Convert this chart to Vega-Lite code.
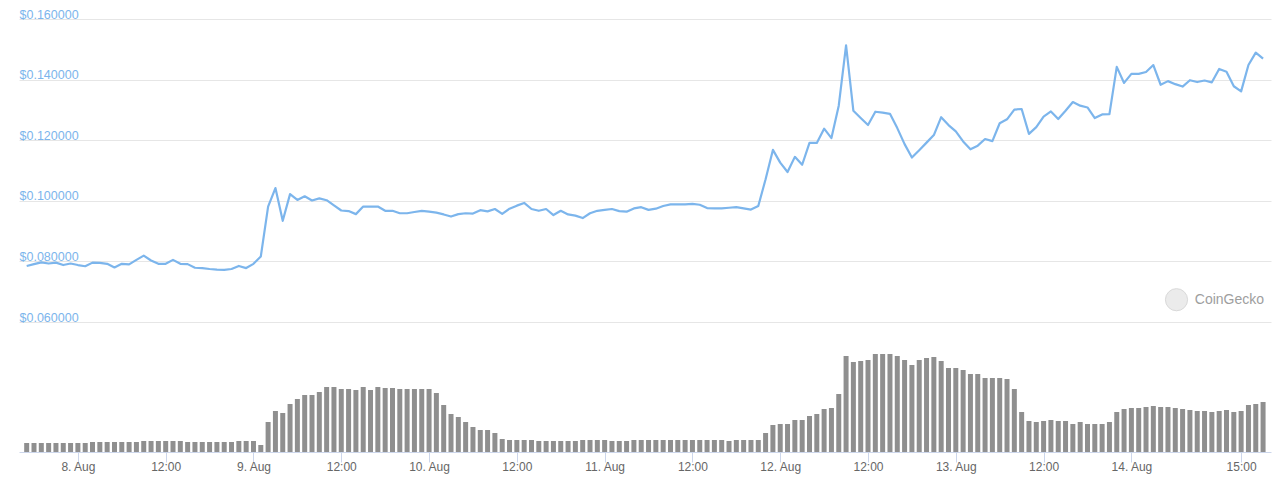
{
  "$schema": "https://vega.github.io/schema/vega-lite/v6.json",
  "width": 1252,
  "height": 433,
  "autosize": {"type": "none"},
  "padding": {"left": 19, "top": 19, "right": 9, "bottom": 34},
  "background": "white",
  "config": {"view": {"stroke": null}, "font": "Liberation Sans"},
  "datasets": {
    "series": [
      {"t":"2021-08-07T17:00","p":0.0785,"v":90000},
      {"t":"2021-08-07T18:00","p":0.0791,"v":90000},
      {"t":"2021-08-07T19:00","p":0.0797,"v":90000},
      {"t":"2021-08-07T20:00","p":0.0793,"v":90000},
      {"t":"2021-08-07T21:00","p":0.0796,"v":90000},
      {"t":"2021-08-07T22:00","p":0.0788,"v":90000},
      {"t":"2021-08-07T23:00","p":0.0793,"v":90000},
      {"t":"2021-08-08T00:00","p":0.0788,"v":90000},
      {"t":"2021-08-08T01:00","p":0.0784,"v":90000},
      {"t":"2021-08-08T02:00","p":0.0796,"v":100000},
      {"t":"2021-08-08T03:00","p":0.0795,"v":100000},
      {"t":"2021-08-08T04:00","p":0.0792,"v":100000},
      {"t":"2021-08-08T05:00","p":0.0780,"v":100000},
      {"t":"2021-08-08T06:00","p":0.0792,"v":100000},
      {"t":"2021-08-08T07:00","p":0.0790,"v":100000},
      {"t":"2021-08-08T08:00","p":0.0805,"v":100000},
      {"t":"2021-08-08T09:00","p":0.0819,"v":110000},
      {"t":"2021-08-08T10:00","p":0.0803,"v":110000},
      {"t":"2021-08-08T11:00","p":0.0792,"v":110000},
      {"t":"2021-08-08T12:00","p":0.0792,"v":110000},
      {"t":"2021-08-08T13:00","p":0.0805,"v":110000},
      {"t":"2021-08-08T14:00","p":0.0792,"v":110000},
      {"t":"2021-08-08T15:00","p":0.0791,"v":100000},
      {"t":"2021-08-08T16:00","p":0.0779,"v":100000},
      {"t":"2021-08-08T17:00","p":0.0778,"v":100000},
      {"t":"2021-08-08T18:00","p":0.0775,"v":100000},
      {"t":"2021-08-08T19:00","p":0.0773,"v":100000},
      {"t":"2021-08-08T20:00","p":0.0772,"v":100000},
      {"t":"2021-08-08T21:00","p":0.0775,"v":100000},
      {"t":"2021-08-08T22:00","p":0.0785,"v":110000},
      {"t":"2021-08-08T23:00","p":0.0778,"v":110000},
      {"t":"2021-08-09T00:00","p":0.0792,"v":110000},
      {"t":"2021-08-09T01:00","p":0.0816,"v":70000},
      {"t":"2021-08-09T02:00","p":0.0981,"v":300000},
      {"t":"2021-08-09T03:00","p":0.1042,"v":410000},
      {"t":"2021-08-09T04:00","p":0.0934,"v":390000},
      {"t":"2021-08-09T05:00","p":0.1022,"v":480000},
      {"t":"2021-08-09T06:00","p":0.1003,"v":530000},
      {"t":"2021-08-09T07:00","p":0.1015,"v":570000},
      {"t":"2021-08-09T08:00","p":0.1001,"v":570000},
      {"t":"2021-08-09T09:00","p":0.1008,"v":600000},
      {"t":"2021-08-09T10:00","p":0.1002,"v":650000},
      {"t":"2021-08-09T11:00","p":0.0985,"v":650000},
      {"t":"2021-08-09T12:00","p":0.0968,"v":630000},
      {"t":"2021-08-09T13:00","p":0.0966,"v":630000},
      {"t":"2021-08-09T14:00","p":0.0956,"v":620000},
      {"t":"2021-08-09T15:00","p":0.0981,"v":650000},
      {"t":"2021-08-09T16:00","p":0.0981,"v":620000},
      {"t":"2021-08-09T17:00","p":0.0981,"v":650000},
      {"t":"2021-08-09T18:00","p":0.0967,"v":640000},
      {"t":"2021-08-09T19:00","p":0.0967,"v":640000},
      {"t":"2021-08-09T20:00","p":0.0959,"v":630000},
      {"t":"2021-08-09T21:00","p":0.0959,"v":630000},
      {"t":"2021-08-09T22:00","p":0.0963,"v":630000},
      {"t":"2021-08-09T23:00","p":0.0967,"v":630000},
      {"t":"2021-08-10T00:00","p":0.0964,"v":630000},
      {"t":"2021-08-10T01:00","p":0.0961,"v":590000},
      {"t":"2021-08-10T02:00","p":0.0955,"v":470000},
      {"t":"2021-08-10T03:00","p":0.0948,"v":380000},
      {"t":"2021-08-10T04:00","p":0.0956,"v":350000},
      {"t":"2021-08-10T05:00","p":0.0959,"v":300000},
      {"t":"2021-08-10T06:00","p":0.0958,"v":250000},
      {"t":"2021-08-10T07:00","p":0.0969,"v":220000},
      {"t":"2021-08-10T08:00","p":0.0965,"v":220000},
      {"t":"2021-08-10T09:00","p":0.0973,"v":190000},
      {"t":"2021-08-10T10:00","p":0.0957,"v":130000},
      {"t":"2021-08-10T11:00","p":0.0974,"v":120000},
      {"t":"2021-08-10T12:00","p":0.0984,"v":120000},
      {"t":"2021-08-10T13:00","p":0.0993,"v":120000},
      {"t":"2021-08-10T14:00","p":0.0973,"v":120000},
      {"t":"2021-08-10T15:00","p":0.0967,"v":110000},
      {"t":"2021-08-10T16:00","p":0.0973,"v":110000},
      {"t":"2021-08-10T17:00","p":0.0953,"v":110000},
      {"t":"2021-08-10T18:00","p":0.0967,"v":110000},
      {"t":"2021-08-10T19:00","p":0.0955,"v":110000},
      {"t":"2021-08-10T20:00","p":0.0951,"v":110000},
      {"t":"2021-08-10T21:00","p":0.0943,"v":120000},
      {"t":"2021-08-10T22:00","p":0.0959,"v":120000},
      {"t":"2021-08-10T23:00","p":0.0967,"v":120000},
      {"t":"2021-08-11T00:00","p":0.0970,"v":120000},
      {"t":"2021-08-11T01:00","p":0.0973,"v":110000},
      {"t":"2021-08-11T02:00","p":0.0966,"v":110000},
      {"t":"2021-08-11T03:00","p":0.0964,"v":110000},
      {"t":"2021-08-11T04:00","p":0.0975,"v":120000},
      {"t":"2021-08-11T05:00","p":0.0979,"v":120000},
      {"t":"2021-08-11T06:00","p":0.0970,"v":120000},
      {"t":"2021-08-11T07:00","p":0.0974,"v":120000},
      {"t":"2021-08-11T08:00","p":0.0983,"v":120000},
      {"t":"2021-08-11T09:00","p":0.0988,"v":120000},
      {"t":"2021-08-11T10:00","p":0.0988,"v":120000},
      {"t":"2021-08-11T11:00","p":0.0988,"v":120000},
      {"t":"2021-08-11T12:00","p":0.0990,"v":120000},
      {"t":"2021-08-11T13:00","p":0.0987,"v":120000},
      {"t":"2021-08-11T14:00","p":0.0976,"v":120000},
      {"t":"2021-08-11T15:00","p":0.0975,"v":120000},
      {"t":"2021-08-11T16:00","p":0.0975,"v":120000},
      {"t":"2021-08-11T17:00","p":0.0977,"v":110000},
      {"t":"2021-08-11T18:00","p":0.0979,"v":120000},
      {"t":"2021-08-11T19:00","p":0.0975,"v":120000},
      {"t":"2021-08-11T20:00","p":0.0971,"v":120000},
      {"t":"2021-08-11T21:00","p":0.0983,"v":120000},
      {"t":"2021-08-11T22:00","p":0.1071,"v":190000},
      {"t":"2021-08-11T23:00","p":0.1168,"v":270000},
      {"t":"2021-08-12T00:00","p":0.1126,"v":280000},
      {"t":"2021-08-12T01:00","p":0.1095,"v":280000},
      {"t":"2021-08-12T02:00","p":0.1145,"v":320000},
      {"t":"2021-08-12T03:00","p":0.1119,"v":320000},
      {"t":"2021-08-12T04:00","p":0.1191,"v":360000},
      {"t":"2021-08-12T05:00","p":0.1191,"v":380000},
      {"t":"2021-08-12T06:00","p":0.1238,"v":430000},
      {"t":"2021-08-12T07:00","p":0.1207,"v":440000},
      {"t":"2021-08-12T08:00","p":0.1314,"v":580000},
      {"t":"2021-08-12T09:00","p":0.1513,"v":960000},
      {"t":"2021-08-12T10:00","p":0.1297,"v":900000},
      {"t":"2021-08-12T11:00","p":0.1273,"v":910000},
      {"t":"2021-08-12T12:00","p":0.1250,"v":920000},
      {"t":"2021-08-12T13:00","p":0.1294,"v":980000},
      {"t":"2021-08-12T14:00","p":0.1291,"v":980000},
      {"t":"2021-08-12T15:00","p":0.1287,"v":980000},
      {"t":"2021-08-12T16:00","p":0.1240,"v":960000},
      {"t":"2021-08-12T17:00","p":0.1187,"v":920000},
      {"t":"2021-08-12T18:00","p":0.1143,"v":870000},
      {"t":"2021-08-12T19:00","p":0.1167,"v":920000},
      {"t":"2021-08-12T20:00","p":0.1192,"v":940000},
      {"t":"2021-08-12T21:00","p":0.1217,"v":950000},
      {"t":"2021-08-12T22:00","p":0.1276,"v":910000},
      {"t":"2021-08-12T23:00","p":0.1250,"v":840000},
      {"t":"2021-08-13T00:00","p":0.1229,"v":840000},
      {"t":"2021-08-13T01:00","p":0.1196,"v":820000},
      {"t":"2021-08-13T02:00","p":0.1170,"v":780000},
      {"t":"2021-08-13T03:00","p":0.1182,"v":780000},
      {"t":"2021-08-13T04:00","p":0.1204,"v":740000},
      {"t":"2021-08-13T05:00","p":0.1197,"v":740000},
      {"t":"2021-08-13T06:00","p":0.1256,"v":740000},
      {"t":"2021-08-13T07:00","p":0.1269,"v":730000},
      {"t":"2021-08-13T08:00","p":0.1301,"v":630000},
      {"t":"2021-08-13T09:00","p":0.1303,"v":400000},
      {"t":"2021-08-13T10:00","p":0.1221,"v":310000},
      {"t":"2021-08-13T11:00","p":0.1243,"v":300000},
      {"t":"2021-08-13T12:00","p":0.1278,"v":310000},
      {"t":"2021-08-13T13:00","p":0.1295,"v":320000},
      {"t":"2021-08-13T14:00","p":0.1270,"v":310000},
      {"t":"2021-08-13T15:00","p":0.1297,"v":310000},
      {"t":"2021-08-13T16:00","p":0.1326,"v":280000},
      {"t":"2021-08-13T17:00","p":0.1314,"v":300000},
      {"t":"2021-08-13T18:00","p":0.1308,"v":280000},
      {"t":"2021-08-13T19:00","p":0.1273,"v":280000},
      {"t":"2021-08-13T20:00","p":0.1285,"v":280000},
      {"t":"2021-08-13T21:00","p":0.1286,"v":300000},
      {"t":"2021-08-13T22:00","p":0.1442,"v":400000},
      {"t":"2021-08-13T23:00","p":0.1389,"v":430000},
      {"t":"2021-08-14T00:00","p":0.1419,"v":440000},
      {"t":"2021-08-14T01:00","p":0.1419,"v":440000},
      {"t":"2021-08-14T02:00","p":0.1425,"v":450000},
      {"t":"2021-08-14T03:00","p":0.1448,"v":460000},
      {"t":"2021-08-14T04:00","p":0.1383,"v":450000},
      {"t":"2021-08-14T05:00","p":0.1395,"v":450000},
      {"t":"2021-08-14T06:00","p":0.1385,"v":440000},
      {"t":"2021-08-14T07:00","p":0.1377,"v":430000},
      {"t":"2021-08-14T08:00","p":0.1398,"v":420000},
      {"t":"2021-08-14T09:00","p":0.1392,"v":410000},
      {"t":"2021-08-14T10:00","p":0.1397,"v":410000},
      {"t":"2021-08-14T11:00","p":0.1391,"v":400000},
      {"t":"2021-08-14T12:00","p":0.1435,"v":410000},
      {"t":"2021-08-14T13:00","p":0.1426,"v":420000},
      {"t":"2021-08-14T14:00","p":0.1378,"v":400000},
      {"t":"2021-08-14T15:00","p":0.1361,"v":410000},
      {"t":"2021-08-14T16:00","p":0.1448,"v":470000},
      {"t":"2021-08-14T17:00","p":0.1489,"v":480000},
      {"t":"2021-08-14T18:00","p":0.1469,"v":500000}
    ],
    "brand": [
      {"t":"2021-08-14T06:10","p":0.06736,"label":"CoinGecko","tx":"2021-08-14T08:40"}
    ]
  },
  "encoding": {
    "x": {
      "field": "t",
      "type": "temporal",
      "scale": {
        "domain": [
          {"year": 2021, "month": "aug", "date": 7, "hours": 16, "minutes": 38},
          {"year": 2021, "month": "aug", "date": 14, "hours": 18, "minutes": 24}
        ]
      },
      "axis": {
        "title": null,
        "grid": false,
        "values": [
          {"year": 2021, "month": "aug", "date": 8, "hours": 0},
          {"year": 2021, "month": "aug", "date": 8, "hours": 12},
          {"year": 2021, "month": "aug", "date": 9, "hours": 0},
          {"year": 2021, "month": "aug", "date": 9, "hours": 12},
          {"year": 2021, "month": "aug", "date": 10, "hours": 0},
          {"year": 2021, "month": "aug", "date": 10, "hours": 12},
          {"year": 2021, "month": "aug", "date": 11, "hours": 0},
          {"year": 2021, "month": "aug", "date": 11, "hours": 12},
          {"year": 2021, "month": "aug", "date": 12, "hours": 0},
          {"year": 2021, "month": "aug", "date": 12, "hours": 12},
          {"year": 2021, "month": "aug", "date": 13, "hours": 0},
          {"year": 2021, "month": "aug", "date": 13, "hours": 12},
          {"year": 2021, "month": "aug", "date": 14, "hours": 0},
          {"year": 2021, "month": "aug", "date": 14, "hours": 15}
        ],
        "labelExpr": "hours(datum.value) == 0 ? timeFormat(datum.value, '%-d. %b') : timeFormat(datum.value, '%H:%M')",
        "domainColor": "#ccd6eb",
        "domainWidth": 1,
        "tickColor": "#ccd6eb",
        "tickSize": 10,
        "labelColor": "#666666",
        "labelFontSize": 12,
        "labelFont": "Liberation Sans",
        "labelPadding": -1,
        "labelFlush": false,
        "labelOverlap": false
      }
    }
  },
  "layer": [
    {
      "data": {"name": "series"},
      "mark": {"type": "bar", "color": "#8f8f8f", "width": 5},
      "encoding": {
        "y": {
          "field": "v",
          "type": "quantitative",
          "scale": {"domain": [0, 4330000], "nice": false, "zero": true},
          "axis": null
        }
      }
    },
    {
      "encoding": {
        "y": {
          "field": "p",
          "type": "quantitative",
          "scale": {"domain": [0.0171, 0.16], "nice": false, "zero": false},
          "axis": {
            "title": null,
            "orient": "left",
            "values": [0.06, 0.08, 0.1, 0.12, 0.14, 0.16],
            "format": "$.6f",
            "domain": false,
            "ticks": false,
            "tickSize": 0,
            "grid": true,
            "gridColor": "#e6e6e6",
            "gridWidth": 1,
            "labelAlign": "left",
            "labelBaseline": "alphabetic",
            "labelPadding": 0,
            "labelOffset": -1,
            "labelColor": "#7cb5ec",
            "labelFontSize": 12.5,
            "labelFont": "Liberation Sans",
            "labelBound": false,
            "labelFlush": false,
            "labelOverlap": false
          }
        }
      },
      "layer": [
        {
          "data": {"name": "series"},
          "mark": {"type": "line", "color": "#7cb5ec", "strokeWidth": 2.2, "strokeJoin": "round"}
        },
        {
          "data": {"name": "brand"},
          "mark": {"type": "point", "shape": "circle", "filled": true, "size": 490, "color": "#ebebeb", "stroke": "#d9d9d9", "strokeWidth": 1, "opacity": 1}
        },
        {
          "data": {"name": "brand"},
          "mark": {"type": "text", "align": "left", "baseline": "middle", "fontSize": 14, "color": "#9e9e9e", "font": "Liberation Sans"},
          "encoding": {
            "x": {"field": "tx", "type": "temporal"},
            "text": {"field": "label"}
          }
        }
      ]
    }
  ],
  "resolve": {"scale": {"y": "independent"}}
}
